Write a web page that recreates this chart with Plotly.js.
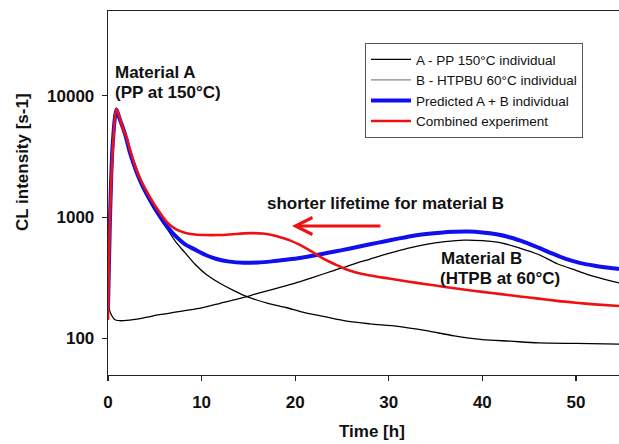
<!DOCTYPE html>
<html>
<head>
<meta charset="utf-8">
<script src="https://cdn.plot.ly/plotly-3.0.1.min.js"></script>
<style>html,body{margin:0;padding:0;background:#fff;}#chart{width:619px;height:444px;}</style>
</head>
<body>
<div id="chart"></div>
<script>
// Time [h] and CL intensity [s-1]
const timeA = [0, 0.2, 0.5, 0.9, 1.2, 1.5, 1.9, 2.3, 2.7, 3.1, 3.6, 4.2, 4.8, 5.5, 6.3, 7.2, 8.2, 9.3, 10.5, 12, 13.5, 15, 17, 19, 21, 23, 25.5, 28, 31, 34, 37, 40, 43, 46, 50, 54.6];
const seriesA = [150, 800, 3800, 7700, 6580, 5620, 4560, 3470, 2750, 2250, 1800, 1450, 1200, 990, 803, 632, 512, 409, 337, 284, 247, 219, 196, 180, 163, 152, 139, 132, 126, 116, 105, 98, 95, 92, 91, 90];

const timeB = [0, 0.3, 0.8, 1.5, 2.7, 4, 5.5, 7, 8.5, 10, 12, 14, 16, 18, 20, 22, 24, 26, 28, 30, 32, 34, 36, 38, 40, 42, 44, 46, 48, 50, 52, 54.6];
const seriesB = [195, 160, 142, 140, 143, 149, 157, 164, 171, 179, 195, 213, 235, 259, 286, 321, 360, 405, 451, 502, 553, 597, 628, 647, 640, 614, 556, 492, 413, 364, 323, 287];

const timeP = [0, 0.2, 0.5, 0.9, 1.2, 1.5, 1.9, 2.3, 2.7, 3.1, 3.6, 4.2, 4.8, 5.5, 6.3, 7.2, 8.2, 9.3, 10.5, 11.6, 13, 14.5, 16, 17.5, 19, 20.5, 22, 23.5, 25, 26.5, 28, 29.5, 31, 32.5, 34, 35.5, 37, 38.5, 40, 41.5, 43, 44.5, 46, 47.5, 49, 50.5, 52, 53.5, 54.6];
const seriesP = [180, 900, 4000, 7700, 6600, 5700, 4600, 3500, 2800, 2300, 1870, 1520, 1260, 1030, 840, 700, 600, 540, 485, 452, 430, 421, 423, 432, 445, 460, 483, 508, 535, 565, 598, 630, 665, 700, 725, 745, 757, 760, 748, 722, 680, 623, 560, 500, 450, 418, 398, 383, 374];

const timeC = [0, 0.2, 0.57, 0.9, 1.2, 1.64, 2.0, 2.3, 2.7, 3.1, 3.6, 4.2, 4.8, 5.5, 6.3, 7.2, 8.2, 9.3, 10.5, 11.6, 13, 14.5, 15.5, 16.5, 17.5, 18.5, 19.5, 20.5, 21.5, 22.5, 23.5, 24.5, 25.5, 26.5, 28, 30, 32, 34, 36, 38, 40, 42, 44, 46, 48, 50, 52, 54.6];
const seriesC = [142, 895, 4300, 7800, 6800, 5230, 4500, 3700, 2950, 2400, 1950, 1600, 1330, 1100, 910, 800, 745, 720, 712, 712, 720, 735, 738, 732, 712, 680, 640, 590, 535, 480, 435, 400, 370, 350, 330, 312, 295, 280, 266, 253, 242, 232, 222, 213, 204, 197, 191, 185];

const legendNames = ['A - PP 150°C individual', 'B - HTPBU 60°C individual', 'Predicted A + B individual', 'Combined experiment'];
const xTicks = [0, 10, 20, 30, 40, 50];
const yTicks = [100, 1000, 10000];

const FONT = 'Liberation Sans, Arial, Helvetica, sans-serif';
const SM = 0.8;

const traces = [
  {x: timeA, y: seriesA, name: legendNames[0], mode: 'lines', line: {color: '#000', width: 1.3, shape: 'spline', smoothing: SM}},
  {x: [null], y: [null], name: legendNames[1], mode: 'lines', line: {color: '#888', width: 1.3}},
  {x: timeB, y: seriesB, name: legendNames[1], showlegend: false, mode: 'lines', line: {color: '#000', width: 1.3, shape: 'spline', smoothing: SM}},
  {x: timeP, y: seriesP, name: legendNames[2], mode: 'lines', line: {color: '#1010ee', width: 4, shape: 'spline', smoothing: SM}},
  {x: timeC, y: seriesC, name: legendNames[3], mode: 'lines', line: {color: '#ee1111', width: 2.6, shape: 'spline', smoothing: SM}}
];

// plot area: left 108, right 619, top 11, bottom 375
function px2paperX(px) { return (px - 108) / 511; }
function py2paperY(py) { return (375 - py) / 364; }

const boldFont = {family: FONT, size: 17, color: '#111', weight: 'bold'};

const layout = {
  width: 619, height: 444,
  margin: {l: 108, r: 0, t: 11, b: 69},
  paper_bgcolor: '#fff', plot_bgcolor: '#fff',
  font: {family: FONT, color: '#111'},
  showlegend: true,
  legend: {
    x: px2paperX(365), y: py2paperY(43), xanchor: 'left', yanchor: 'top',
    bordercolor: '#555', borderwidth: 1, bgcolor: '#fff',
    font: {family: FONT, size: 13.5, color: '#111'},
    tracegroupgap: 0, itemwidth: 40
  },
  xaxis: {
    range: [0, 54.6], tickvals: xTicks, ticktext: xTicks.map(String),
    showline: true, linecolor: '#222', linewidth: 1.3, mirror: true,
    ticks: 'outside', ticklen: 5, tickwidth: 1.2, tickcolor: '#222',
    showgrid: false, zeroline: false,
    tickfont: boldFont, ticklabelstandoff: 6
  },
  yaxis: {
    type: 'log', range: [Math.log10(50), Math.log10(50000)],
    tickvals: yTicks, ticktext: yTicks.map(String),
    showline: true, linecolor: '#222', linewidth: 1.3,
    ticks: 'outside', ticklen: 5, tickwidth: 1.2, tickcolor: '#222',
    showgrid: false, zeroline: false,
    tickfont: boldFont, ticklabelstandoff: 4
  },
  annotations: [
    {xref: 'paper', yref: 'paper', x: px2paperX(22), y: py2paperY(162), text: 'CL intensity [s-1]', textangle: -90,
     showarrow: false, xanchor: 'center', yanchor: 'middle', font: boldFont},
    {xref: 'paper', yref: 'paper', x: px2paperX(372), y: py2paperY(432), text: 'Time [h]',
     showarrow: false, xanchor: 'center', yanchor: 'middle', font: boldFont},
    {xref: 'paper', yref: 'paper', x: px2paperX(113), y: py2paperY(73), text: 'Material A',
     showarrow: false, xanchor: 'left', yanchor: 'middle', font: boldFont},
    {xref: 'paper', yref: 'paper', x: px2paperX(113), y: py2paperY(93), text: '(PP at 150°C)',
     showarrow: false, xanchor: 'left', yanchor: 'middle', font: boldFont},
    {xref: 'paper', yref: 'paper', x: px2paperX(265), y: py2paperY(203), text: 'shorter lifetime for material B',
     showarrow: false, xanchor: 'left', yanchor: 'middle', font: boldFont},
    {xref: 'paper', yref: 'paper', x: px2paperX(439), y: py2paperY(258), text: 'Material B',
     showarrow: false, xanchor: 'left', yanchor: 'middle', font: boldFont},
    {xref: 'paper', yref: 'paper', x: px2paperX(438), y: py2paperY(278), text: '(HTPB at 60°C)',
     showarrow: false, xanchor: 'left', yanchor: 'middle', font: boldFont},
    {xref: 'x', yref: 'y', x: 19.66, y: 2.927, axref: 'x', ayref: 'y', ax: 29.27, ay: 2.927,
     text: '', showarrow: true, arrowhead: 5, arrowsize: 1.1, arrowwidth: 3, arrowcolor: '#ee1111', standoff: 0}
  ]
};

Plotly.newPlot('chart', traces, layout, {displayModeBar: false, staticPlot: true});
</script>
</body>
</html>
